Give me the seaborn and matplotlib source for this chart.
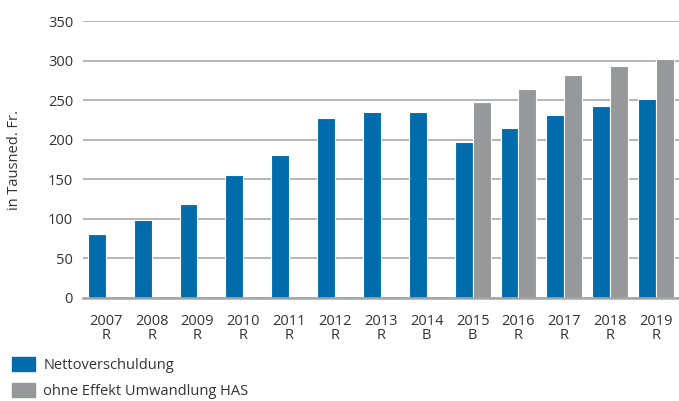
import matplotlib
matplotlib.use("Agg")
import matplotlib.pyplot as plt
import matplotlib.patches as mpatches
import seaborn as sns
import pandas as pd
import numpy as np

years = ["2007", "2008", "2009", "2010", "2011", "2012", "2013",
         "2014", "2015", "2016", "2017", "2018", "2019"]
status = ["R", "R", "R", "R", "R", "R", "R", "B", "B", "R", "R", "R", "R"]
netto = [81, 98, 119, 155, 181, 228, 235, 235, 197, 215, 231, 243, 252]
ohne_has = [np.nan] * 8 + [248, 264, 282, 293, 302]
series_names = ["Nettoverschuldung", "ohne Effekt Umwandlung HAS"]
colors = ["#006CAB", "#97989A"]

labels = [f"{y}\n{s}" for y, s in zip(years, status)]
df = pd.DataFrame({
    "label": labels * 2,
    "serie": [series_names[0]] * len(years) + [series_names[1]] * len(years),
    "wert": netto + ohne_has,
})

sns.set_theme(style="white")
plt.rcParams["font.family"] = ["Open Sans", "DejaVu Sans"]

fig = plt.figure(figsize=(6.79, 4.01), dpi=100)
ax = fig.add_axes([0.122, 0.2576, 0.878, 0.6894])

sns.barplot(data=df, x="label", y="wert", hue="serie", order=labels,
            hue_order=series_names, palette=colors, width=0.78,
            edgecolor="white", linewidth=0.8, saturation=1, ax=ax, legend=False)

ax.set_ylim(0, 350)
ax.set_yticks(range(0, 351, 50))
ax.set_xlim(-0.5, len(years) - 0.5)
ax.yaxis.grid(True, color="#b5b5b5", linewidth=1.4)
ax.set_axisbelow(True)
for s in ["top", "right", "left"]:
    ax.spines[s].set_visible(False)
ax.spines["bottom"].set_color("#a5a5a5")
ax.spines["bottom"].set_linewidth(1.8)
ax.tick_params(axis="both", length=0, labelsize=10.5, colors="#333333")
ax.tick_params(axis="x", pad=11.5)
ax.tick_params(axis="y", pad=7)
for t in ax.get_xticklabels():
    t.set_linespacing(0.95)
ax.set_xlabel("")
ax.set_ylabel("")
fig.text(15 / 679, 0.6, "in Tausned. Fr.", rotation=90, ha="center",
         va="center", fontsize=10.5, color="#333333")

handles = [mpatches.Patch(color=c, label=n) for c, n in zip(colors, series_names)]
fig.legend(handles=handles, loc="lower left", bbox_to_anchor=(0.0, -0.026),
           frameon=False, fontsize=10.5, handlelength=1.58, handleheight=1.03,
           labelspacing=0.72, handletextpad=0.55, borderpad=0.3,
           borderaxespad=0.55, labelcolor="#333333")

fig.savefig("out.png", dpi=100)
